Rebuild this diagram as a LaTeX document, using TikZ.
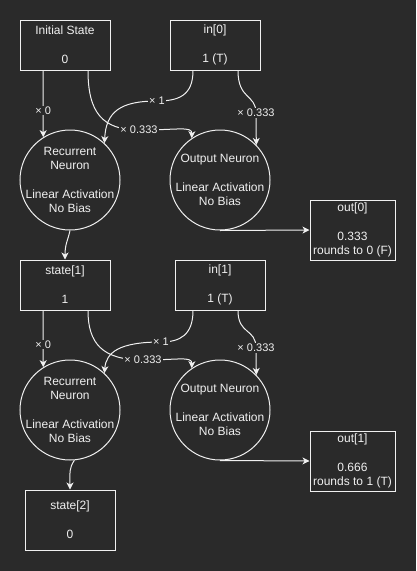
\documentclass[tikz,border=0pt]{standalone}
\usepackage{fontspec}
\setmainfont{Liberation Sans}
\usetikzlibrary{arrows.meta}
\definecolor{RnnBg}{HTML}{2A2A2A}
\definecolor{RnnFg}{HTML}{F0F0F0}

\begin{document}
\begin{tikzpicture}[x=1pt,y=-1pt,
    rnnbox/.style={draw=RnnFg,text=RnnFg,line width=1pt,minimum width=90,minimum height=50,inner sep=0,align=center,font=\fontsize{12}{14.4}\selectfont},
    outbox/.style={rnnbox,minimum width=85,minimum height=60},
    neuron/.style={draw=RnnFg,line width=1pt,circle,minimum size=100,inner sep=0},
    ntext/.style={text=RnnFg,align=center,inner sep=0,font=\fontsize{12}{14.4}\selectfont},
    wire/.style={draw=RnnFg,line width=1pt,-{Stealth[length=7pt,width=7pt,inset=2pt]}},
    wlbl/.style={fill=RnnBg,text=RnnFg,inner sep=1pt,font=\fontsize{11}{13}\selectfont}]
        \fill[RnnBg] (0,0) rectangle (416,571);
        \node[rnnbox] (init) at (65,45) {Initial State\\[14.4pt]0};
        \node[rnnbox] (in0) at (215,45) {in[0]\\[14.4pt]1 (T)};
        \node[neuron] (rec0) at (70,180) {};
        \node[ntext] (rec0txt) at (rec0.center) {Recurrent\\Neuron\\[14.4pt]Linear Activation\\No Bias};
        \node[neuron] (out0) at (220,180) {};
        \node[ntext] (out0txt) at (out0.center) {Output Neuron\\[14.4pt]Linear Activation\\No Bias};
        \node[outbox] (o0) at (352.5,230) {out[0]\\[14.4pt]0.333\\rounds to 0 (F)};
        \node[rnnbox] (state1) at (65,285) {state[1]\\[14.4pt]1};
        \node[rnnbox] (in1) at (220,285) {in[1]\\[14.4pt]1 (T)};
        \node[neuron] (rec1) at (70,410) {};
        \node[ntext] (rec1txt) at (rec1.center) {Recurrent\\Neuron\\[14.4pt]Linear Activation\\No Bias};
        \node[neuron] (out1) at (220,410) {};
        \node[ntext] (out1txt) at (out1.center) {Output Neuron\\[14.4pt]Linear Activation\\No Bias};
        \node[outbox] (o1) at (352.5,461) {out[1]\\[14.4pt]0.666\\rounds to 1 (T)};
        \node[rnnbox,minimum height=60] (state2) at (70,520) {state[2]\\[14.4pt]0};

        \draw[wire] ([xshift=-22]init.south) -- node[wlbl,pos=0.6]{× 0} (rec0.122);
        \draw[wire] ([xshift=23]init.south) .. controls (88,112) and (102,130) .. (139,130) node[wlbl]{× 0.333} .. controls (178,130) and (192,126) .. (out0.124);
        \draw[wire] ([xshift=-22]in0.south) .. controls (193,96) and (178,101) .. (157,101) node[wlbl]{× 1} .. controls (120,101) and (106,112) .. (rec0.47);
        \draw[wire] ([xshift=23]in0.south) .. controls (238,100) and (256,94) .. (256,113) node[wlbl]{× 0.333} -- (out0.44);
        \draw[wire] (out0.south) -- (o0.west);
        \draw[wire] (rec0.south) .. controls (68,240) and (65,244) .. (state1.north);

        \draw[wire] ([xshift=-22]state1.south) -- node[wlbl,pos=0.6]{× 0} (rec1.122);
        \draw[wire] ([xshift=23]state1.south) .. controls (88,343) and (102,360) .. (143,360) node[wlbl]{× 0.333} .. controls (178,360) and (192,356) .. (out1.124);
        \draw[wire] ([xshift=-27]in1.south) .. controls (193,335) and (180,342) .. (161,342) node[wlbl]{× 1} .. controls (120,342) and (106,352) .. (rec1.47);
        \draw[wire] ([xshift=18]in1.south) .. controls (238,335) and (256,328) .. (256,348) node[wlbl]{× 0.333} -- (out1.44);
        \draw[wire] (out1.south) -- (o1.west);
        \draw[wire] (rec1.-85) .. controls (69,468) and (70,472) .. (state2.north);
      \end{tikzpicture}
\end{document}
